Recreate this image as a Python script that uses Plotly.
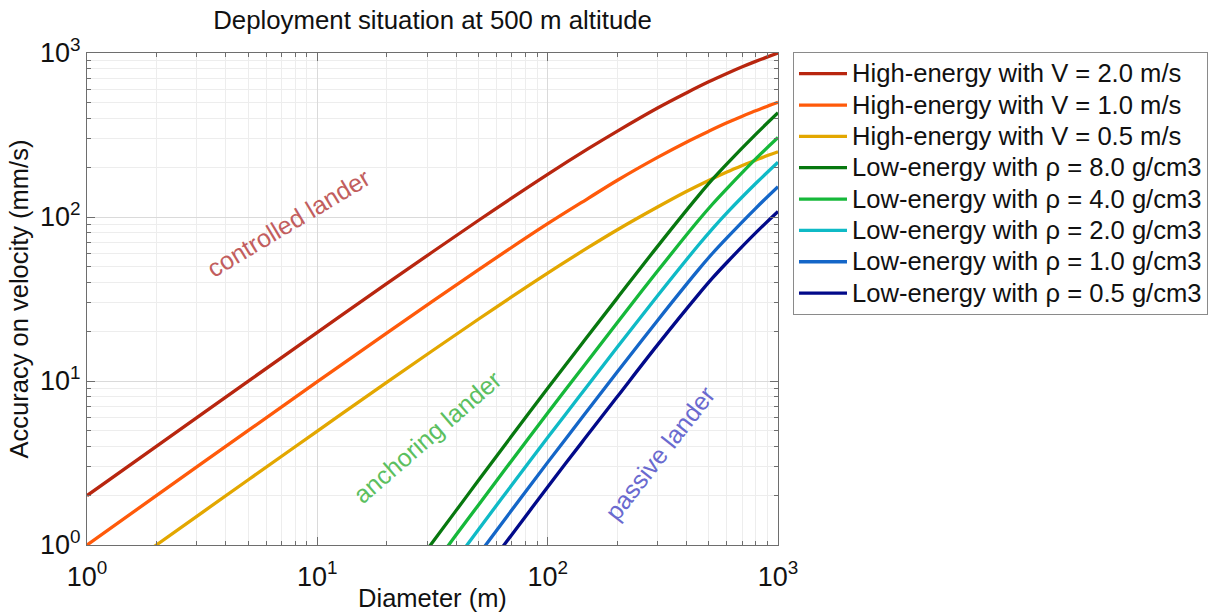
import plotly.graph_objects as go

# Diameters (m) and velocity accuracy (mm/s), high-energy deployment
diam_high = [1, 2, 5, 10, 20, 50, 100, 150, 200, 300, 400, 500, 600, 700, 800, 900, 1000]
acc_v20 = [2.0, 3.99, 9.95, 19.8, 39.2, 95.2, 182, 261, 333, 462, 571, 667, 750, 824, 889, 947, 1000]
acc_v10 = [1.0, 2.0, 4.98, 9.9, 19.6, 47.6, 91, 130, 167, 231, 286, 333, 375, 412, 444, 474, 500]
acc_v05 = [0.5, 1.0, 2.49, 4.95, 9.8, 23.8, 45.5, 65.2, 83.3, 115, 143, 167, 188, 206, 222, 237, 250]

# Low-energy deployment, by asteroid density
diam_low = [30, 40, 50, 70, 100, 140, 200, 300, 450, 520, 600, 800, 1000]
acc_rho80 = [0.94, 1.62, 2.47, 4.65, 9.03, 16.7, 31.9, 66.2, 134, 170, 211, 319, 432]
acc_rho40 = [0.665, 1.15, 1.75, 3.29, 6.39, 11.8, 22.6, 46.8, 94.8, 120, 149, 226, 305]
acc_rho20 = [0.47, 0.81, 1.24, 2.33, 4.52, 8.35, 16.0, 33.1, 67, 85, 106, 160, 216]
acc_rho10 = [0.33, 0.57, 0.87, 1.64, 3.19, 5.9, 11.3, 23.4, 47.4, 60.1, 74.6, 113, 153]
acc_rho05 = [0.235, 0.405, 0.62, 1.16, 2.26, 4.18, 7.98, 16.6, 33.5, 42.5, 52.8, 80, 108]

tick_vals = [1, 10, 100, 1000]
tick_text = ["10<sup>0</sup>", "10<sup>1</sup>", "10<sup>2</sup>", "10<sup>3</sup>"]

series = [
    ("High-energy with V = 2.0 m/s", diam_high, acc_v20, "#b8260f"),
    ("High-energy with V = 1.0 m/s", diam_high, acc_v10, "#ff5a0a"),
    ("High-energy with V = 0.5 m/s", diam_high, acc_v05, "#e3a700"),
    ("Low-energy with \u03c1 = 8.0 g/cm3", diam_low, acc_rho80, "#07780f"),
    ("Low-energy with \u03c1 = 4.0 g/cm3", diam_low, acc_rho40, "#16b83a"),
    ("Low-energy with \u03c1 = 2.0 g/cm3", diam_low, acc_rho20, "#0fbac6"),
    ("Low-energy with \u03c1 = 1.0 g/cm3", diam_low, acc_rho10, "#1466c8"),
    ("Low-energy with \u03c1 = 0.5 g/cm3", diam_low, acc_rho05, "#020a8a"),
]

FONT = "Liberation Sans, Arial, sans-serif"
TEXT = "#111111"

fig = go.Figure()
for name, xs, ys, color in series:
    fig.add_trace(go.Scatter(
        x=xs, y=ys, mode="lines", name=f'<span style="font-size:25.6px">{name}</span>',
        line=dict(color=color, width=3.3, shape="spline", smoothing=1.0),
    ))

axis_common = dict(
    type="log", range=[0, 3], tickvals=tick_vals, ticktext=tick_text,
    showgrid=True, gridcolor="#dadada", gridwidth=1,
    ticks="inside", ticklen=8, tickcolor="#6e6e6e",
    showline=True, linecolor="#6e6e6e", linewidth=1.2, mirror="ticks",
    tickfont=dict(family=FONT, size=27, color=TEXT),
    zeroline=False,
    minor=dict(dtick="D1", showgrid=True, gridcolor="#ededed",
               ticks="inside", ticklen=4, tickcolor="#6e6e6e"),
)

fig.update_xaxes(**axis_common, ticklabelstandoff=7,
                 title=dict(text="Diameter (m)", standoff=4,
                            font=dict(family=FONT, size=25.5, color=TEXT)))
fig.update_yaxes(**axis_common,
                 title=dict(text="Accuracy on velocity (mm/s)", standoff=4,
                            font=dict(family=FONT, size=25.5, color=TEXT)))

labels = [
    ("controlled lander", 0.873, 1.963, -31, "#c25e5e"),
    ("anchoring lander", 1.476, 0.659, -41, "#5cbf5f"),
    ("passive lander", 2.487, 0.561, -52, "#6a6acf"),
]
for txt, lx, ly, ang, col in labels:
    fig.add_annotation(x=lx, y=ly, xref="x", yref="y", text=txt, showarrow=False,
                       textangle=ang, font=dict(family=FONT, size=25, color=col))

fig.update_layout(
    width=1212, height=612,
    margin=dict(l=87, r=434, t=53, b=67, autoexpand=False),
    paper_bgcolor="white", plot_bgcolor="white",
    title=dict(text="Deployment situation at 500 m altitude", x=0.3569, xanchor="center",
               y=0.967, yanchor="middle", font=dict(family=FONT, size=25.8, color=TEXT)),
    legend=dict(x=1.0217, y=1.002, xanchor="left", yanchor="top",
                bordercolor="#8a8a8a", borderwidth=1, bgcolor="white",
                font=dict(family=FONT, size=21.8, color=TEXT),
                itemwidth=48, tracegroupgap=0),
    showlegend=True,
)

fig.write_html("out.html")
